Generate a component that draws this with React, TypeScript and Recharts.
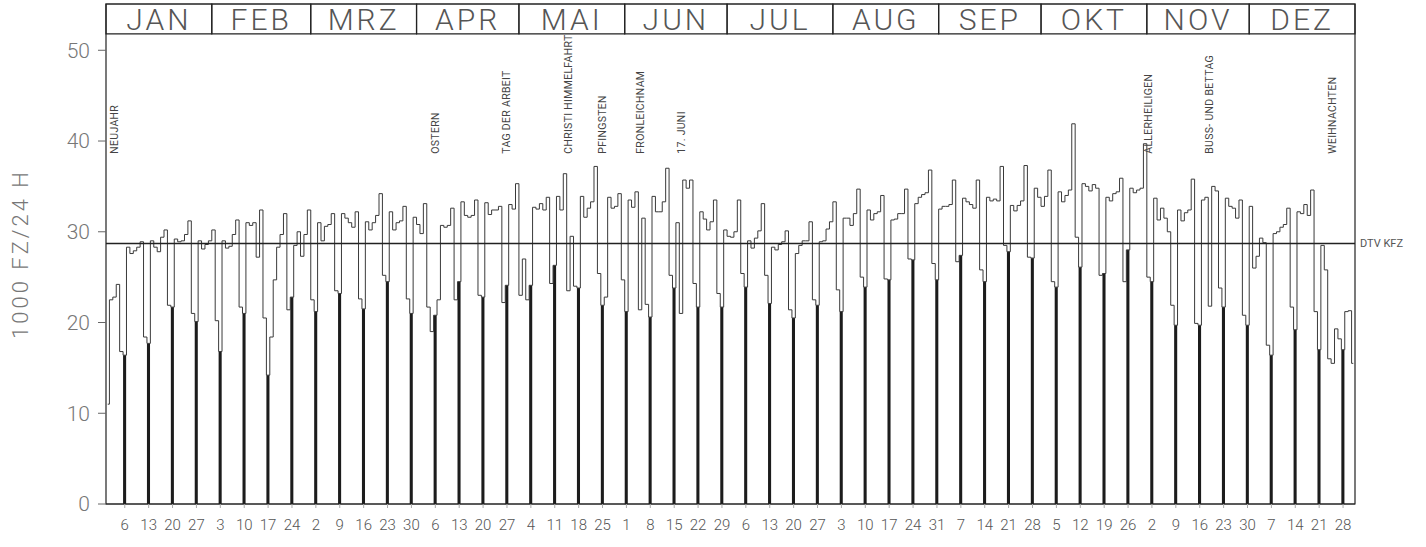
// Daily traffic 1980 (1000 Kfz / 24 h): weekday step line, Sundays as solid bars.
import { Bar, ComposedChart, Line, ReferenceArea, ReferenceDot, ReferenceLine, XAxis, YAxis } from 'recharts';

const INK = '#222';
const GREY = '#666';
const FONT = 'Roboto, "DejaVu Sans", sans-serif';

// one array per month
const jan = [11.0, 22.5, 22.8, 24.2, 16.8, 16.4, 28.3, 27.6, 27.9, 28.3, 28.9, 18.4, 17.7, 29.0, 28.3, 27.8, 29.4, 30.2, 21.9, 21.7, 29.2, 28.9, 29.0, 29.7, 31.2, 21.0, 20.1, 29.0, 28.1, 28.6, 29.0];
const feb = [30.2, 20.2, 16.8, 29.0, 28.2, 28.4, 29.7, 31.3, 21.7, 21.0, 31.0, 30.7, 31.0, 27.2, 32.4, 20.5, 14.2, 18.4, 24.7, 28.3, 29.7, 32.0, 21.4, 22.8, 28.5, 30.0, 27.3, 29.7, 32.4];
const mrz = [22.5, 21.2, 31.0, 29.0, 30.6, 30.8, 32.0, 23.5, 23.2, 32.0, 31.5, 31.0, 30.5, 32.2, 22.6, 21.5, 31.1, 30.2, 31.0, 31.8, 34.2, 25.2, 24.5, 32.2, 30.2, 31.0, 31.2, 32.8, 22.6, 21.0, 31.6];
const apr = [30.8, 29.8, 33.1, 21.7, 19.0, 20.8, 22.5, 30.7, 30.5, 30.7, 32.6, 22.5, 24.5, 33.3, 31.8, 31.6, 31.8, 33.5, 23.0, 22.8, 33.2, 31.9, 32.4, 32.4, 32.8, 22.2, 24.1, 33.0, 32.5, 35.3];
const mai = [23.0, 27.0, 22.5, 24.1, 32.7, 32.5, 33.1, 32.4, 33.8, 24.3, 26.3, 33.9, 32.4, 36.4, 23.5, 29.5, 24.0, 23.8, 33.9, 31.6, 32.6, 33.3, 37.2, 25.4, 21.9, 22.8, 33.8, 32.6, 32.8, 34.2, 24.7];
const jun = [21.2, 33.5, 32.7, 34.4, 21.4, 31.5, 22.0, 20.6, 33.9, 32.2, 32.2, 33.3, 37.0, 25.2, 23.8, 31.0, 21.0, 35.7, 34.8, 35.7, 24.3, 21.7, 32.2, 31.4, 30.2, 31.1, 33.5, 23.2, 21.7, 30.2];
const jul = [29.5, 29.4, 30.0, 33.5, 25.4, 23.9, 29.0, 28.2, 29.3, 30.1, 33.1, 25.2, 22.1, 28.3, 28.0, 28.6, 28.9, 30.1, 21.4, 20.5, 27.6, 28.5, 29.0, 29.0, 31.1, 22.5, 21.9, 28.9, 29.0, 30.3, 31.1];
const aug = [33.3, 23.6, 21.2, 31.5, 31.5, 30.7, 32.0, 34.7, 25.0, 23.9, 32.4, 31.3, 32.0, 32.2, 34.0, 24.8, 24.7, 31.3, 31.4, 32.0, 32.0, 34.7, 27.0, 26.9, 33.1, 33.8, 34.1, 34.3, 36.8, 26.5, 24.7];
const sep = [32.5, 32.8, 32.8, 33.0, 35.7, 26.7, 27.4, 33.7, 33.3, 33.0, 32.6, 35.7, 25.8, 24.5, 33.8, 33.4, 33.6, 33.4, 37.2, 28.5, 27.8, 32.9, 32.3, 32.9, 33.4, 37.3, 27.2, 27.1, 34.8, 33.8];
const okt = [32.8, 33.9, 36.8, 24.5, 23.9, 34.4, 33.3, 34.0, 34.6, 41.9, 29.4, 26.1, 35.3, 35.0, 34.5, 35.2, 34.8, 25.2, 25.4, 33.8, 33.4, 34.2, 34.4, 35.9, 24.5, 28.0, 34.8, 34.3, 34.6, 34.8, 39.7];
const nov = [25.0, 24.5, 33.7, 31.3, 32.6, 31.5, 30.0, 21.9, 19.7, 32.4, 31.2, 32.1, 32.4, 35.8, 19.9, 19.7, 33.5, 33.8, 21.8, 35.0, 34.5, 23.8, 21.7, 33.7, 32.8, 32.6, 31.5, 33.5, 20.8, 19.7];
const dez = [32.8, 26.0, 27.3, 29.3, 28.8, 17.5, 16.4, 29.8, 30.0, 30.5, 30.8, 32.6, 21.7, 19.2, 32.2, 32.0, 33.0, 31.8, 34.6, 21.2, 17.0, 28.5, 25.8, 16.0, 15.5, 19.3, 18.2, 17.0, 21.2, 21.3, 15.5];

const MONTH_NAMES = ['JAN', 'FEB', 'MRZ', 'APR', 'MAI', 'JUN', 'JUL', 'AUG', 'SEP', 'OKT', 'NOV', 'DEZ'];
const MONTH_VALUES = [jan, feb, mrz, apr, mai, jun, jul, aug, sep, okt, nov, dez];

const HOLIDAY_NAMES = ['NEUJAHR', 'OSTERN', 'TAG DER ARBEIT', 'CHRISTI HIMMELFAHRT', 'PFINGSTEN', 'FRONLEICHNAM', '17. JUNI', 'ALLERHEILIGEN', 'BUSS- UND BETTAG', 'WEIHNACHTEN'];
const HOLIDAY_DAYS = [3, 97, 118, 136, 146, 157, 169, 306, 324, 360];

const Y_TICKS = [0, 10, 20, 30, 40, 50];
const DTV = 28.7;
const FIRST_SUNDAY = 6; // 6 Jan 1980
const Y_MAX = 55.1;
const HEADER_FROM = 51.8;
const HOLIDAY_BASE = 38.6;

type DayPoint = { day: number; value: number; sunday: number | null };

const data: DayPoint[] = [];
const sundayTicks: number[] = [];
const dateOfDay: Record<number, number> = {};
const monthSpans: { name: string; from: number; to: number }[] = [];
let dayCount = 0;
MONTH_VALUES.forEach((vals, m) => {
  const from = dayCount + 0.5;
  vals.forEach((v, i) => {
    dayCount += 1;
    const isSunday = (dayCount - FIRST_SUNDAY) % 7 === 0;
    data.push({ day: dayCount, value: v, sunday: isSunday ? v : null });
    if (isSunday) {
      sundayTicks.push(dayCount);
      dateOfDay[dayCount] = i + 1;
    }
  });
  monthSpans.push({ name: MONTH_NAMES[m], from, to: dayCount + 0.5 });
});

const holidayLabel = (text: string) => (props: any) => {
  const { viewBox } = props;
  const x = viewBox.x + viewBox.width / 2;
  const y = viewBox.y + viewBox.height / 2;
  return (
    <text x={x} y={y} transform={`rotate(-90 ${x} ${y})`} textAnchor="start" dominantBaseline="central"
      fontSize={10.5} fill="#444" fontFamily={FONT} letterSpacing={0.3}>
      {text}
    </text>
  );
};

const yAxisLabel = (props: any) => {
  const { viewBox } = props;
  const x = viewBox.x + 20;
  const y = viewBox.y + viewBox.height / 2;
  return (
    <text x={x} y={y} transform={`rotate(-90 ${x} ${y})`} textAnchor="middle" dominantBaseline="central"
      fontSize={22} fill="#777" fontFamily={FONT} fontWeight={300} letterSpacing={3}>
      1000 FZ/24 H
    </text>
  );
};

export default function App() {
  return (
    <div style={{ position: 'absolute', left: 0, top: 0, width: 1426, height: 547, background: '#fff' }}>
      <ComposedChart width={1426} height={547} data={data} margin={{ top: 4, right: 71, bottom: 0, left: 0 }}>
        <XAxis
          dataKey="day"
          type="number"
          domain={[0.5, 366.5]}
          ticks={sundayTicks}
          interval={0}
          tickFormatter={(d: number) => String(dateOfDay[d] ?? '')}
          height={43}
          axisLine={{ stroke: INK, strokeWidth: 1.2 }}
          tickLine={{ stroke: '#aaa' }}
          tickSize={4}
          tickMargin={11}
          tick={{ fontSize: 15, fill: '#555', fontFamily: FONT, fontWeight: 300 }}
        />
        <YAxis
          type="number"
          domain={[0, Y_MAX]}
          ticks={Y_TICKS}
          width={106}
          axisLine={false}
          tickLine={{ stroke: GREY }}
          tickSize={8}
          tickMargin={8}
          tick={{ fontSize: 21, fill: '#777', fontFamily: FONT, fontWeight: 300 }}
          label={{ content: yAxisLabel }}
        />
        <ReferenceArea x1={0.5} x2={366.5} y1={0} y2={Y_MAX} fill="none" stroke={INK} strokeWidth={1.2} />
        {monthSpans.map((m) => (
          <ReferenceArea
            key={m.name}
            x1={m.from}
            x2={m.to}
            y1={HEADER_FROM}
            y2={Y_MAX}
            fill="none"
            stroke={INK}
            strokeWidth={1.2}
            label={{ value: m.name, position: 'center', fontSize: 30, fill: '#555', fontFamily: FONT, fontWeight: 300, letterSpacing: 3 }}
          />
        ))}
        <Bar dataKey="sunday" fill="#1c1c1c" barSize={4} isAnimationActive={false} />
        <Line type="step" dataKey="value" stroke="#3a3a3a" strokeWidth={1} dot={false} isAnimationActive={false} />
        <ReferenceLine
          y={DTV}
          stroke={INK}
          strokeWidth={1.4}
          label={{ value: 'DTV KFZ', position: 'right', fontSize: 11, fill: '#555', fontFamily: FONT }}
        />
        {HOLIDAY_DAYS.map((d, i) => (
          <ReferenceDot key={HOLIDAY_NAMES[i]} x={d} y={HOLIDAY_BASE} r={0} fill="none" stroke="none" label={holidayLabel(HOLIDAY_NAMES[i])} />
        ))}
      </ComposedChart>
    </div>
  );
}
